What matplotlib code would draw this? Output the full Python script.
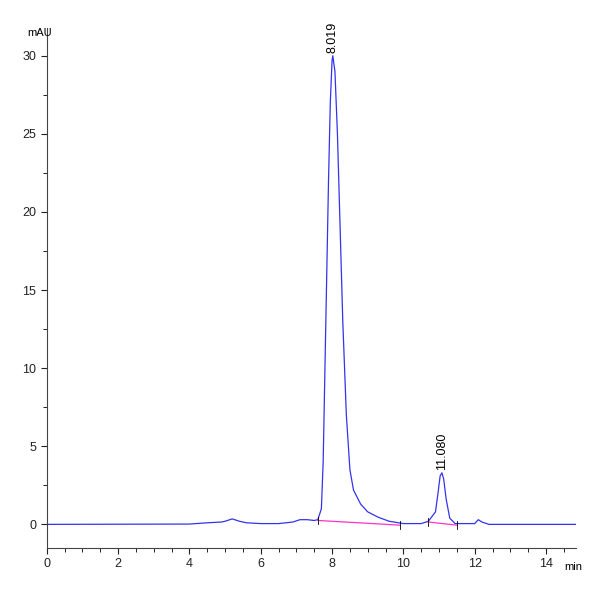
import matplotlib
matplotlib.use("Agg")
import matplotlib.pyplot as plt
from matplotlib.ticker import MultipleLocator

time = [0, 4.0, 4.5, 4.9, 5.0, 5.2, 5.4, 5.6, 6.0, 6.5, 6.9, 7.1, 7.3, 7.5, 7.6, 7.7, 7.75, 7.8, 7.85, 7.9, 7.95,
        8.0, 8.02, 8.08, 8.15, 8.2, 8.3, 8.4, 8.5, 8.6, 8.8, 9.0, 9.3, 9.6, 10.0, 10.5, 10.7, 10.9,
        10.97, 11.03, 11.08, 11.13, 11.2, 11.3, 11.45, 12.0, 12.1, 12.2, 12.4, 14.85]
signal = [0, 0.02, 0.1, 0.15, 0.2, 0.35, 0.2, 0.1, 0.05, 0.05, 0.15, 0.3, 0.3, 0.25, 0.3, 1.0, 4, 10, 16, 22, 27,
          29.7, 30.0, 29.0, 25, 21, 13, 7, 3.5, 2.2, 1.3, 0.8, 0.45, 0.2, 0.05, 0.05, 0.2, 0.8,
          2.0, 3.1, 3.3, 2.9, 1.6, 0.4, 0.05, 0.05, 0.3, 0.15, 0.0, 0.0]
base1_t = [7.6, 9.9]; base1_v = [0.25, -0.05]
base2_t = [10.7, 11.5]; base2_v = [0.15, -0.05]
peak_rt = [8.019, 11.080]
peak_h = [30.0, 3.3]
peak_lbl = ["8.019", "11.080"]

plt.rcParams['font.family'] = ['Liberation Sans Narrow', 'Liberation Sans', 'DejaVu Sans']
fig = plt.figure(figsize=(6, 6), dpi=100)
ax = fig.add_axes([0.078, 0.087, 0.882, 0.867])
ax.plot(time, signal, color='#3333ee', lw=0.9)
ax.plot(base1_t, base1_v, color='#ff33cc', lw=0.9)
ax.plot(base2_t, base2_v, color='#ff33cc', lw=0.9)
for t, v in [(7.6, 0.25), (9.9, -0.05), (10.7, 0.15), (11.5, -0.05)]:
    ax.plot([t, t], [v - 0.25, v + 0.25], color='black', lw=0.6)
for t, h, s in zip(peak_rt, peak_h, peak_lbl):
    ax.text(t, h + 0.2, s, rotation=90, ha='center', va='bottom', fontsize=9)
ax.set_xlim(0, 14.84)
ax.set_ylim(-1.5, 31.8)
ax.xaxis.set_major_locator(MultipleLocator(2))
ax.xaxis.set_minor_locator(MultipleLocator(0.5))
ax.yaxis.set_minor_locator(MultipleLocator(2.5))
ax.set_yticks([0, 5, 10, 15, 20, 25, 30])
for s in ['top', 'right']:
    ax.spines[s].set_visible(False)
for s in ['left', 'bottom']:
    ax.spines[s].set_color('#444444')
    ax.spines[s].set_linewidth(0.8)
ax.tick_params(labelsize=9, length=4, direction='out', colors='#222222')
ax.tick_params(which='minor', length=3)
fig.text(0.045, 0.945, "mAU", fontsize=8, ha='left', va='center')
fig.text(0.94, 0.055, "min", fontsize=8, ha='left', va='center')
fig.savefig("out.png", dpi=100, facecolor='white')
